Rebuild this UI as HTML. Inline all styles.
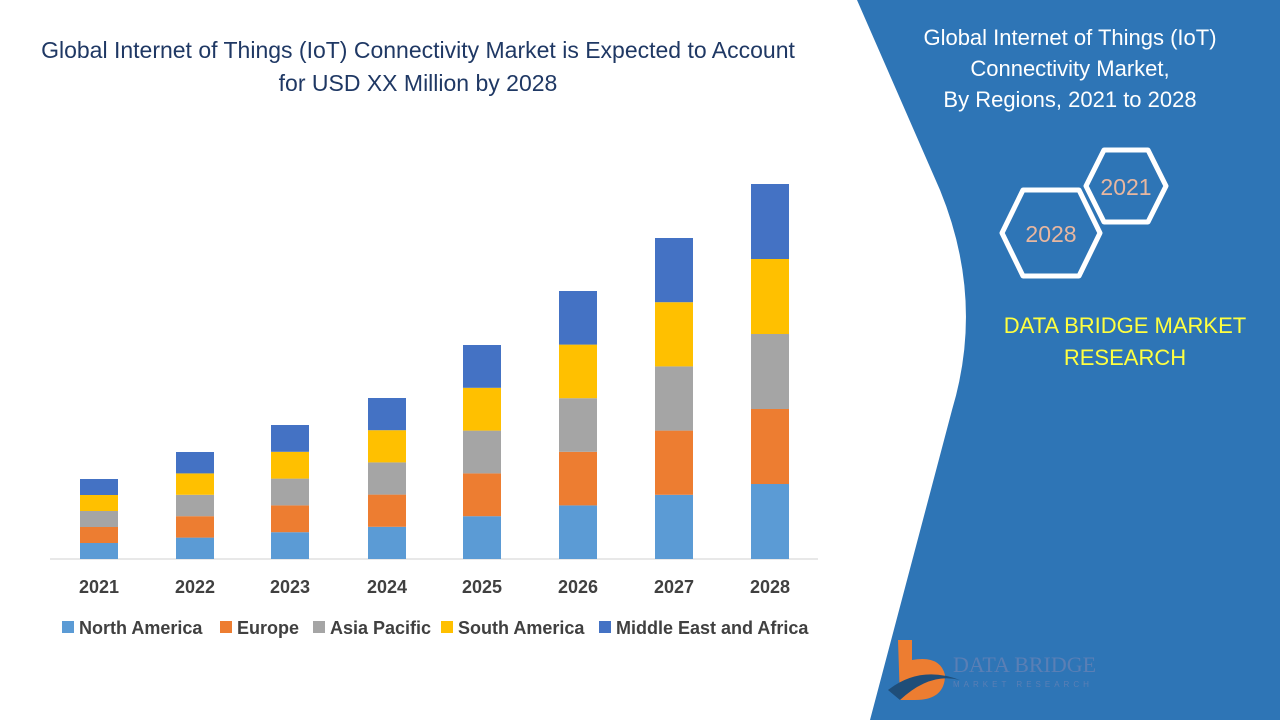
<!DOCTYPE html>
<html><head><meta charset="utf-8"><style>
body{margin:0;width:1280px;height:720px;overflow:hidden;background:#fff;font-family:"Liberation Sans",sans-serif;position:relative}
.t{position:absolute;text-align:center}
</style></head><body>
<svg width="1280" height="720" style="position:absolute;left:0;top:0">
<path d="M857,0 L1280,0 L1280,720 L870,720 L952,410 Q985,300 940,190 Z" fill="#2e75b6"/>
<line x1="50" y1="559" x2="818" y2="559" stroke="#d0d0d0" stroke-width="1"/>
<g id="bars"></g>
<polygon points="1104,150 1148,150 1166,186 1148,222 1104,222 1086,186" fill="none" stroke="#fff" stroke-width="5" stroke-linejoin="round"/>
<polygon points="1023,190 1079,190 1100,233 1079,276 1023,276 1002,233" fill="none" stroke="#fff" stroke-width="5" stroke-linejoin="round"/>
<text x="1126" y="195" font-size="23" fill="#e8b7a0" text-anchor="middle" font-family="Liberation Sans">2021</text>
<text x="1051" y="242" font-size="23" fill="#e8b7a0" text-anchor="middle" font-family="Liberation Sans">2028</text>
<path d="M898,640 L912,640 L912,660 Q940,655 945,675 Q945,700 915,700 L900,700 Z" fill="#ed7d31"/>
<path d="M888,690 Q920,665 960,680 Q930,672 900,700 Z" fill="#1f4e79"/>
<text x="953" y="672" font-size="22" fill="#5a7fb5" font-family="Liberation Serif">DATA BRIDGE</text>
<text x="953" y="687" font-size="8" fill="#5a7fb5" letter-spacing="4">MARKET RESEARCH</text>
<g font-size="18" font-weight="bold" fill="#404040" font-family="Liberation Sans">
<rect x="62" y="621" width="12" height="12" fill="#5b9bd5"/><text x="79" y="634">North America</text>
<rect x="220" y="621" width="12" height="12" fill="#ed7d31"/><text x="237" y="634">Europe</text>
<rect x="313" y="621" width="12" height="12" fill="#a5a5a5"/><text x="330" y="634">Asia Pacific</text>
<rect x="441" y="621" width="12" height="12" fill="#ffc000"/><text x="458" y="634">South America</text>
<rect x="599" y="621" width="12" height="12" fill="#4472c4"/><text x="616" y="634">Middle East and Africa</text>
</g>
</svg>
<div class="t" style="left:0;top:34px;width:836px;font-size:23px;line-height:33px;color:#1f3864">Global Internet of Things (IoT) Connectivity Market is Expected to Account<br>for USD XX Million by 2028</div>
<div class="t" style="left:900px;top:22px;width:340px;font-size:22px;line-height:31px;color:#fff">Global Internet of Things (IoT)<br>Connectivity Market,<br>By Regions, 2021 to 2028</div>
<div class="t" style="left:980px;top:310px;width:290px;font-size:22px;line-height:32px;color:#ffff40">DATA BRIDGE MARKET<br>RESEARCH</div>
<script>
var xs=[99,195,290,387,482,578,674,770],tops=[479,452,425,398,345,291,238,184],yr=[2021,2022,2023,2024,2025,2026,2027,2028];
var cols=["#5b9bd5","#ed7d31","#a5a5a5","#ffc000","#4472c4"];var s="";
for(var i=0;i<8;i++){var h=(559-tops[i])/5;for(var j=0;j<5;j++){s+='<rect x="'+(xs[i]-19)+'" y="'+(559-h*(j+1))+'" width="38" height="'+h+'" fill="'+cols[j]+'"/>';}
s+='<text x="'+xs[i]+'" y="593" font-size="18" font-weight="bold" fill="#404040" text-anchor="middle" font-family="Liberation Sans">'+yr[i]+'</text>';}
document.getElementById("bars").innerHTML=s;
</script>
</body></html>
